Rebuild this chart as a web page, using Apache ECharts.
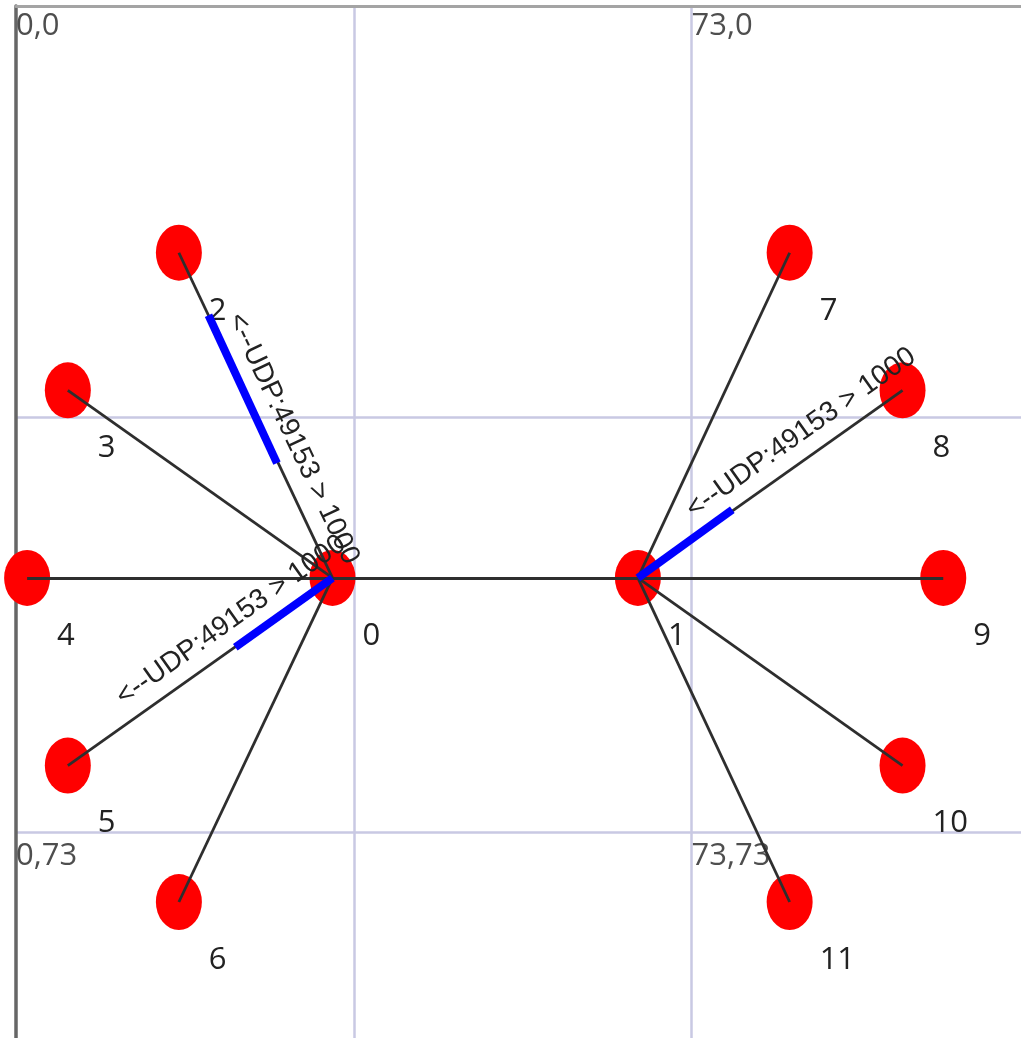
<!DOCTYPE html>
<html lang="en">
<head>
<meta charset="UTF-8">
<title>UDP star topology</title>
<script src="https://cdn.jsdelivr.net/npm/echarts@6/dist/echarts.min.js"></script>
<style>
  * { margin: 0; padding: 0; }
  body { background: #fff; }
  #chart { width: 1021px; height: 1038px; }
</style>
</head>
<body>
<div id="chart"></div>
<script>
// node positions in animator units (y grows downward)
var nodeIds = [0, 1, 2, 3, 4, 5, 6, 7, 8, 9, 10, 11];
var nodeX = [34.2, 67.2, 17.6, 5.6, 1.2, 5.6, 17.6, 83.6, 95.8, 100.2, 95.8, 83.6];
var nodeY = [50.6, 50.6, 22.0, 34.1, 50.6, 67.1, 79.1, 22.0, 34.1, 50.6, 67.1, 79.1];

// point-to-point links, by node id
var links = [[0, 1], [0, 2], [0, 3], [0, 4], [0, 5], [0, 6], [1, 7], [1, 8], [1, 9], [1, 10], [1, 11]];

// links with a flow description, written from -> to
var flows = [[2, 0], [5, 0], [1, 8]];
var flowText = '<--UDP:49153 > 1000';

// packets on the wire: both ends of each blue bar
var packetFrom = [[20.8, 27.5], [34.2, 50.6], [67.2, 50.6]];
var packetTo = [[28.2, 40.5], [23.7, 56.7], [77.4, 44.6]];

// background reference lines and the corner marks
var gridMarks = [36.5, 73];
var corners = [[0, 0], [73, 0], [0, 73], [73, 73]];

var chart = echarts.init(document.getElementById('chart'));

function pos(id) {
    return [nodeX[id], nodeY[id]];
}

var nodeData = nodeIds.map(function (id) {
    return [nodeX[id], nodeY[id], id];
});

var gridLines = gridMarks.map(function (v) { return { xAxis: v }; })
    .concat(gridMarks.map(function (v) { return { yAxis: v }; }));

var option = {
    animation: false,
    backgroundColor: '#fff',
    grid: { left: 16, top: 6, right: 0, bottom: 0, outerBoundsMode: 'none' },
    xAxis: {
        type: 'value', min: 0, max: 108.6, position: 'top',
        axisLine: { show: true, onZero: false, lineStyle: { color: '#a4a4a4', width: 3 } },
        axisTick: { show: false }, axisLabel: { show: false }, splitLine: { show: false }
    },
    yAxis: {
        type: 'value', min: 0.3, max: 91.06, inverse: true,
        axisLine: { show: true, onZero: false, lineStyle: { color: '#666', width: 3.5 } },
        axisTick: { show: false }, axisLabel: { show: false }, splitLine: { show: false }
    },
    series: [
        {
            // corner marks + reference lines
            type: 'scatter', z: 1, silent: true, clip: false,
            symbolSize: 1,
            itemStyle: { color: 'rgba(0,0,0,0)' },
            label: {
                show: true, position: 'inside', align: 'left', verticalAlign: 'middle',
                offset: [0, 24], fontSize: 31, fontFamily: 'Open Sans', color: '#222',
                formatter: function (p) { return p.value[0] + ',' + p.value[1]; }
            },
            data: corners,
            markLine: {
                silent: true, symbol: 'none', animation: false, z: 0,
                label: { show: false },
                lineStyle: { color: '#c9c9e3', width: 2.5, type: 'solid' },
                data: gridLines
            }
        },
        {
            // nodes
            type: 'scatter', z: 2, silent: true,
            symbol: 'circle', symbolSize: [46, 56],
            itemStyle: { color: '#ff0000', opacity: 1 },
            label: {
                show: true, position: 'inside', align: 'left', verticalAlign: 'middle',
                offset: [30, 58], fontSize: 31, fontFamily: 'Open Sans', color: '#222',
                formatter: function (p) { return String(p.value[2]); }
            },
            data: nodeData
        },
        {
            // links
            type: 'lines', coordinateSystem: 'cartesian2d', z: 3, silent: true,
            lineStyle: { color: '#2e2e2e', width: 2.8, opacity: 1, curveness: 0 },
            data: links.map(function (l) { return { coords: [pos(l[0]), pos(l[1])] }; })
        },
        {
            // packets
            type: 'lines', coordinateSystem: 'cartesian2d', z: 4, silent: true,
            lineStyle: { color: '#0000ff', width: 8, opacity: 1, cap: 'butt' },
            data: packetFrom.map(function (p, i) { return { coords: [p, packetTo[i]] }; })
        },
        {
            // flow descriptions along links
            type: 'lines', coordinateSystem: 'cartesian2d', z: 5, silent: true,
            lineStyle: { color: 'rgba(0,0,0,0)', opacity: 1, width: 1 },
            label: {
                show: true, position: 'insideStartTop', distance: [80, 10], opacity: 1,
                fontSize: 28, fontFamily: 'Liberation Sans', color: '#222',
                formatter: function () { return flowText; }
            },
            data: flows.map(function (f) { return { coords: [pos(f[0]), pos(f[1])] }; })
        }
    ]
};

chart.setOption(option);
</script>
</body>
</html>
